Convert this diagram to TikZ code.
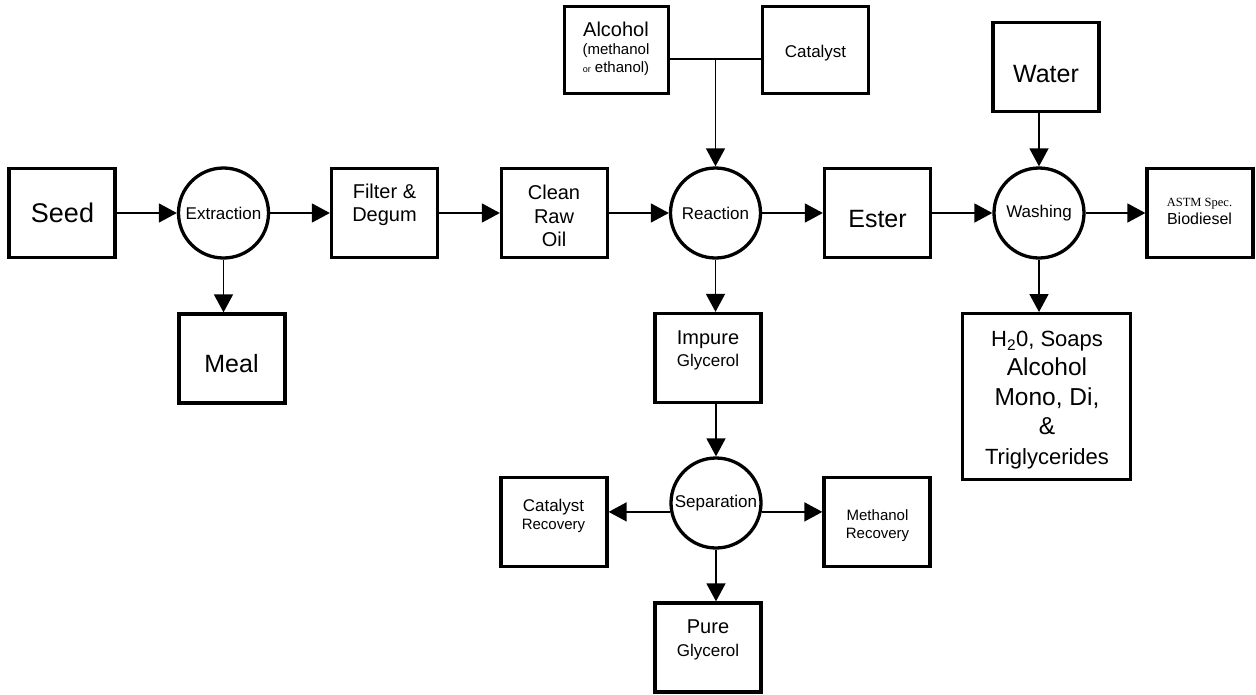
\documentclass[tikz,border=0pt]{standalone}
\usepackage{fontspec}
\setmainfont{Liberation Sans}
\newfontfamily\timesfam{Liberation Serif}
\usetikzlibrary{arrows.meta}
\newcommand{\fsz}[2]{\fontsize{#1}{#2}\selectfont}
\begin{document}
\begin{tikzpicture}[x=1pt,y=-1pt,
  box/.style={draw, line width=3.3pt, rectangle, minimum width=106pt, minimum height=89pt, inner sep=0pt},
  proc/.style={draw, line width=3.3pt, circle, minimum size=90pt, inner sep=0pt, font=\fsz{17}{20}},
  txt/.style={inner sep=0pt, align=center},
  arr/.style={line width=1.6pt, -{Triangle[length=18pt,width=19pt]}},
  ln/.style={line width=1.6pt}]
\useasboundingbox (0,0) rectangle (1256,694);

% main row
\node[box] (seed) at (62,213) {};
\node[txt, font=\fsz{27}{30}] (seedt) at (62.5,213) {Seed};
\node[proc] (extr) at (223.5,213) {Extraction};
\node[box] (filter) at (384.5,213) {};
\node[txt, font=\fsz{20}{22.5}] (filtert) at (384.5,205) {Filter \&\\Degum};
\node[box] (clean) at (554.5,213) {};
\node[txt, font=\fsz{20}{23.5}] (cleant) at (554,216) {Clean\\Raw\\Oil};
\node[proc] (react) at (715.5,213) {Reaction};
\node[box] (ester) at (877.5,213) {};
\node[txt, font=\fsz{25}{28}] (estert) at (877.5,219) {Ester};
\node[proc] (wash) at (1039,213) {Washing};
\node[box] (astm) at (1200,213) {};
\node[txt, font=\fsz{16}{18}] (astmt) at (1199.5,211.5) {{\timesfam\fsz{12.5}{18}ASTM Spec.}\\Biodiesel};

% side boxes
\node[box] (meal) at (232,358.5) {};
\node[txt, font=\fsz{25}{28}] (mealt) at (231.5,364) {Meal};
\node[box] (water) at (1046,67) {};
\node[txt, font=\fsz{25}{28}] (watert) at (1046,74) {Water};
\node[box, minimum width=167.7pt, minimum height=165.7pt] (h2o) at (1046.5,396.5) {};
\node[txt, font=\fsz{24.5}{29.5}] (h2ot) at (1047,400) {{\fsz{22}{29.5}H\textsubscript{2}0, Soaps}\\Alcohol\\Mono, Di,\\\&\\{\fsz{22}{29.5}Triglycerides}};
\node[box, minimum width=103.7pt, minimum height=86.7pt] (alc) at (616.5,50) {};
\node[txt, font=\fsz{15}{18}] (alct) at (616,49) {{\fsz{20}{20}Alcohol}\\(methanol\\{\fsz{9}{18}or} ethanol)};
\node[box, minimum height=86.7pt] (cat) at (815.5,50) {};
\node[txt, font=\fsz{17}{20}] (catt) at (815.5,53) {Catalyst};

% glycerol branch
\node[box] (impure) at (708,358) {};
\node[txt, font=\fsz{17}{22}] (impuret) at (708,350.5) {{\fsz{20}{22}Impure}\\Glycerol};
\node[proc] (sep) at (716,503) {Separation};
\node[box] (catrec) at (554,522) {};
\node[txt, font=\fsz{15}{18}] (catrect) at (553.5,515.5) {{\fsz{17}{18}Catalyst}\\Recovery};
\node[box] (methrec) at (877,522) {};
\node[txt, font=\fsz{15}{18}] (methrect) at (877.5,525.5) {Methanol\\Recovery};
\node[box] (pure) at (708,647.5) {};
\node[txt, font=\fsz{17}{23}] (puret) at (708,640) {{\fsz{20}{23}Pure}\\Glycerol};

% connectors
\draw[arr] (seed.east) -- (extr.west);
\draw[arr] (extr.east) -- (filter.west);
\draw[arr] (filter.east) -- (clean.west);
\draw[arr] (clean.east) -- (react.west);
\draw[arr] (react.east) -- (ester.west);
\draw[arr] (ester.east) -- (wash.west);
\draw[arr] (wash.east) -- (astm.west);
\draw[arr] (extr.south) -- (extr.south |- meal.north);
\draw[arr] (react.south) -- (react.south |- impure.north);
\draw[arr] (impure.south -| sep.north) -- (sep.north);
\draw[arr] (sep.south) -- (sep.south |- pure.north);
\draw[arr] (sep.191) -- (catrec.east |- sep.191);
\draw[arr] (sep.-11) -- (methrec.west |- sep.-11);
\draw[arr] (wash.south) -- (wash.south |- h2o.north);
\draw[arr] (water.south -| wash.north) -- (wash.north);
\coordinate (j) at (715.5,59);
\draw[ln] (alc.east |- j) -- (cat.west |- j);
\draw[arr] (j) -- (react.north);
\end{tikzpicture}
\end{document}
